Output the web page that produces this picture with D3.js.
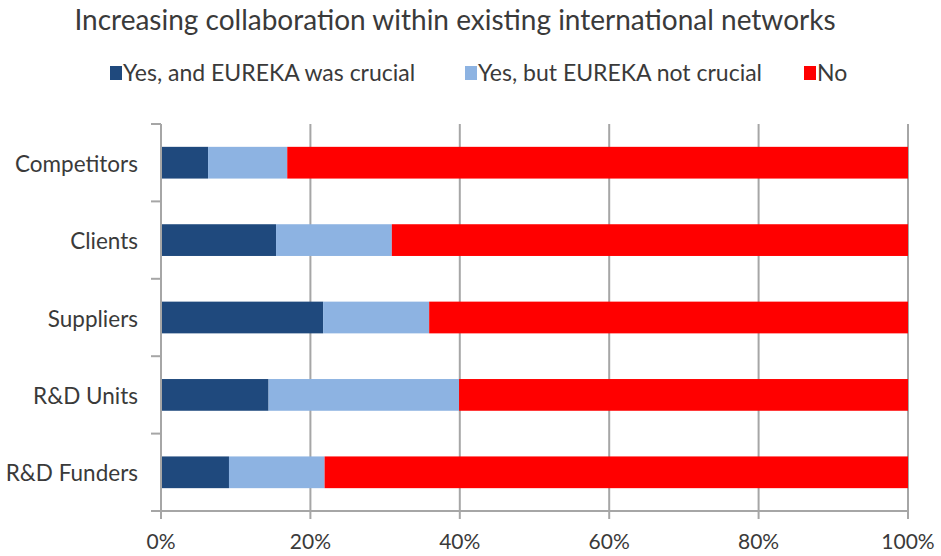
<!DOCTYPE html>
<html>
<head>
<meta charset="utf-8">
<script src="https://cdn.jsdelivr.net/npm/d3@7/dist/d3.min.js"></script>
<style>
  html, body { margin: 0; padding: 0; background: #fff; }
  svg { display: block; }
  text { font-family: Lato, "Noto Sans", sans-serif; fill: #3a3a3a; }
</style>
</head>
<body>
<svg id="chart" width="941" height="556"></svg>
<script>
const title = "Increasing collaboration within existing international networks";
const categories = ["Competitors", "Clients", "Suppliers", "R&D Units", "R&D Funders"];
const seriesNames = ["Yes, and EUREKA was crucial", "Yes, but EUREKA not crucial", "No"];
const crucial = [6.3, 15.4, 21.7, 14.4, 9.1];
const notCrucial = [10.6, 15.5, 14.2, 25.5, 12.8];
const no = [83.1, 69.1, 64.1, 60.1, 78.1];
const colors = ["#1f497d", "#8db3e2", "#ff0000"];
const xTicks = [0, 20, 40, 60, 80, 100];

const svg = d3.select("#chart");
const m = { left: 161, right: 908, top: 124, bottom: 511 };

const x = d3.scaleLinear().domain([0, 100]).range([m.left, m.right]);
const y = d3.scaleBand().domain(categories).range([m.top, m.bottom]).paddingInner(0.59).paddingOuter(0.295);
const yOuter = d3.scaleBand().domain(categories).range([m.top, m.bottom]);

const rows = categories.map((c, i) => ({ cat: c, v0: crucial[i], v1: notCrucial[i], v2: no[i] }));
const stack = d3.stack().keys(["v0", "v1", "v2"])(rows);

// gridlines
svg.append("g").selectAll("line").data(xTicks.slice(1)).join("line")
  .attr("x1", d => x(d)).attr("x2", d => x(d))
  .attr("y1", m.top).attr("y2", m.bottom)
  .attr("stroke", "#a6a6a6").attr("stroke-width", 2);

// bars
svg.append("g").selectAll("g").data(stack).join("g")
  .attr("fill", (d, i) => colors[i])
  .selectAll("rect").data(d => d).join("rect")
  .attr("x", d => x(d[0]))
  .attr("width", d => x(d[1]) - x(d[0]))
  .attr("y", d => y(d.data.cat))
  .attr("height", y.bandwidth());

// y axis line & ticks
const tickYs = categories.map(c => yOuter(c)).concat([m.bottom]);
svg.append("line").attr("x1", m.left).attr("x2", m.left).attr("y1", m.top).attr("y2", m.bottom + 8)
  .attr("stroke", "#a6a6a6").attr("stroke-width", 2);
svg.append("g").selectAll("line").data(tickYs).join("line")
  .attr("x1", m.left - 10).attr("x2", m.left).attr("y1", d => d).attr("y2", d => d)
  .attr("stroke", "#a6a6a6").attr("stroke-width", 2);

// x axis line & ticks
svg.append("line").attr("x1", m.left - 10).attr("x2", m.right).attr("y1", m.bottom).attr("y2", m.bottom)
  .attr("stroke", "#a6a6a6").attr("stroke-width", 2);
svg.append("g").selectAll("line").data(xTicks).join("line")
  .attr("x1", d => x(d)).attr("x2", d => x(d)).attr("y1", m.bottom).attr("y2", m.bottom + 8)
  .attr("stroke", "#a6a6a6").attr("stroke-width", 2);

// x labels
svg.append("g").selectAll("text").data(xTicks).join("text")
  .attr("x", d => x(d)).attr("y", 549)
  .attr("text-anchor", "middle").attr("font-size", 21)
  .text(d => d + "%");

// category labels
svg.append("g").selectAll("text").data(categories).join("text")
  .attr("x", 138).attr("y", d => yOuter(d) + yOuter.bandwidth() / 2 + 9)
  .attr("text-anchor", "end").attr("font-size", 22.5)
  .text(d => d);

// title
svg.append("text").attr("x", 455).attr("y", 30).attr("text-anchor", "middle")
  .attr("font-size", 28).text(title);

// legend
const legendX = [110, 465, 804];
const lg = svg.append("g").selectAll("g").data(seriesNames).join("g")
  .attr("transform", (d, i) => `translate(${legendX[i]},66)`);
lg.append("rect").attr("width", 12).attr("height", 14).attr("fill", (d, i) => colors[i]);
lg.append("text").attr("x", 13).attr("y", 15).attr("font-size", 23).text(d => d);
</script>
</body>
</html>
